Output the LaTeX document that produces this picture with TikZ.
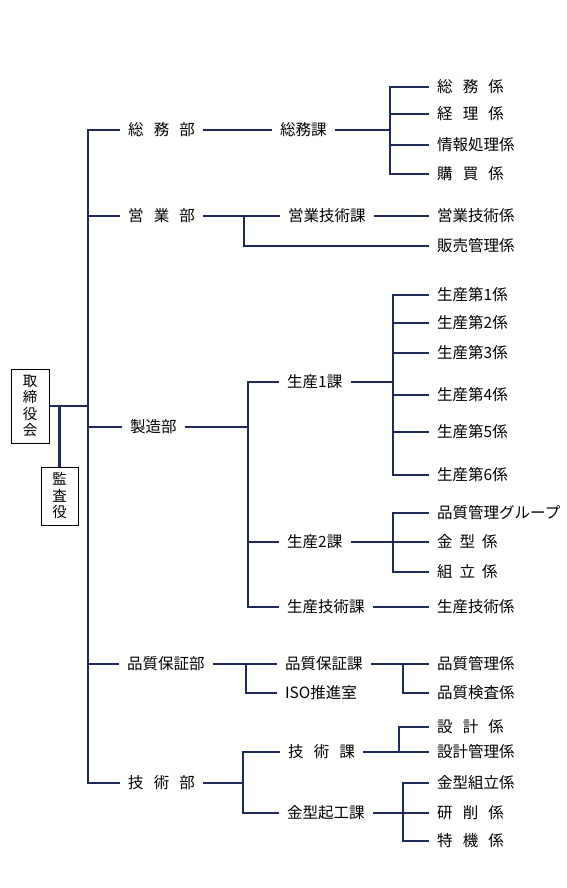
\documentclass[tikz,border=0pt]{standalone}
\usepackage{fontspec}
\setmainfont{Noto Sans CJK JP}
\definecolor{orgline}{RGB}{31,42,92}
\newcommand{\jgap}[1][0.65em]{\hspace{#1}}

\begin{document}
\begin{tikzpicture}[
    x=1pt, y=-1pt,
    lbl/.style={anchor=west, inner xsep=8pt, inner ysep=2pt, font=\fontsize{15.5}{18}\selectfont},
    vbox/.style={draw, line width=0.8pt, align=center, inner sep=0pt, font=\fontsize{14.5}{16.5}\selectfont},
    org/.style={draw=orgline, line width=2.2pt}
  ]
  \useasboundingbox (0,0) rectangle (567,888);

  % board and auditor
  \node[vbox, minimum width=38pt, minimum height=74pt] (board) at (30,406) {取\\締\\役\\会};
  \node[vbox, minimum width=37pt, minimum height=58pt] (audit) at (59.5,496) {監\\査\\役};

  % departments
  \node[lbl] (somu) at (120,130) {総\jgap 務\jgap 部};
  \node[lbl] (eigyo) at (120,216) {営\jgap 業\jgap 部};
  \node[lbl] (seizo) at (122,427) {製造部};
  \node[lbl] (hinsho) at (119,664) {品質保証部};
  \node[lbl] (gijutsu) at (120,783) {技\jgap 術\jgap 部};

  % sections
  \node[lbl] (somuka) at (272,130) {総務課};
  \node[lbl] (eigyoka) at (280,216) {営業技術課};
  \node[lbl] (sei1ka) at (279,382) {生産1課};
  \node[lbl] (sei2ka) at (279,542) {生産2課};
  \node[lbl] (seigika) at (279,607) {生産技術課};
  \node[lbl] (hinka) at (277,664) {品質保証課};
  \node[lbl] (iso) at (277,693) {ISO推進室};
  \node[lbl] (gika) at (280,752) {技\jgap 術\jgap 課};
  \node[lbl] (kanaka) at (279,813) {金型起工課};

  % groups
  \node[lbl] (so1) at (429,87) {総\jgap 務\jgap 係};
  \node[lbl] (so2) at (429,114) {経\jgap 理\jgap 係};
  \node[lbl] (so3) at (429,145) {情報処理係};
  \node[lbl] (so4) at (429,174) {購\jgap 買\jgap 係};
  \node[lbl] (ei1) at (429,216) {営業技術係};
  \node[lbl] (ei2) at (429,246) {販売管理係};
  \foreach \i/\y in {1/295,2/323,3/353,4/395,5/432,6/475}
    \node[lbl] (p\i) at (429,\y) {生産第\i 係};
  \node[lbl] (q1) at (429,513) {品質管理グループ};
  \node[lbl] (q2) at (429,542) {金\jgap[0.45em]型\jgap[0.45em]係};
  \node[lbl] (q3) at (429,572) {組\jgap[0.45em]立\jgap[0.45em]係};
  \node[lbl] (st1) at (429,607) {生産技術係};
  \node[lbl] (hk1) at (429,664) {品質管理係};
  \node[lbl] (hk2) at (429,693) {品質検査係};
  \node[lbl] (gk1) at (429,727) {設\jgap 計\jgap 係};
  \node[lbl] (gk2) at (429,752) {設計管理係};
  \node[lbl] (kk1) at (429,783) {金型組立係};
  \node[lbl] (kk2) at (429,813) {研\jgap 削\jgap 係};
  \node[lbl] (kk3) at (429,841) {特\jgap 機\jgap 係};

  % junction columns
  \coordinate (trunk) at (88,0);
  \coordinate (jeigyo) at (244,0);
  \coordinate (jseizo) at (248,0);
  \coordinate (jhinsho) at (246,0);
  \coordinate (jgiju) at (243,0);
  \coordinate (jsomu) at (390,0);
  \coordinate (jsei) at (393,0);
  \coordinate (jhinka) at (403,0);
  \coordinate (jgika) at (399,0);
  \coordinate (jkana) at (403,0);

  % board to departments
  \draw[org] (board.east) -- (board.east -| trunk);
  \draw[org] (audit.north |- board.east) -- (audit.north);
  \draw[org] (somu.west) -| (trunk |- gijutsu.west) -- (gijutsu.west);
  \draw[org] (eigyo.west -| trunk) -- (eigyo.west);
  \draw[org] (seizo.west -| trunk) -- (seizo.west);
  \draw[org] (hinsho.west -| trunk) -- (hinsho.west);

  % 総務部
  \draw[org] (somu.east) -- (somuka.west);
  \draw[org] (somuka.east) -- (somuka.east -| jsomu);
  \draw[org] (so1.west) -| (jsomu |- so4.west) -- (so4.west);
  \draw[org] (so2.west -| jsomu) -- (so2.west);
  \draw[org] (so3.west -| jsomu) -- (so3.west);

  % 営業部
  \draw[org] (eigyo.east) -- (eigyoka.west);
  \draw[org] (eigyo.east -| jeigyo) |- (ei2.west);
  \draw[org] (eigyoka.east) -- (ei1.west);

  % 製造部
  \draw[org] (seizo.east) -- (seizo.east -| jseizo);
  \draw[org] (sei1ka.west) -| (jseizo |- seigika.west) -- (seigika.west);
  \draw[org] (sei2ka.west -| jseizo) -- (sei2ka.west);
  \draw[org] (sei1ka.east) -- (sei1ka.east -| jsei);
  \draw[org] (p1.west) -| (jsei |- p6.west) -- (p6.west);
  \foreach \i in {2,...,5}
    \draw[org] (p\i.west -| jsei) -- (p\i.west);
  \draw[org] (sei2ka.east) -- (q2.west);
  \draw[org] (q1.west) -| (jsei |- q3.west) -- (q3.west);
  \draw[org] (seigika.east) -- (st1.west);

  % 品質保証部
  \draw[org] (hinsho.east) -- (hinka.west);
  \draw[org] (hinsho.east -| jhinsho) |- (iso.west);
  \draw[org] (hinka.east) -- (hk1.west);
  \draw[org] (hinka.east -| jhinka) |- (hk2.west);

  % 技術部
  \draw[org] (gijutsu.east) -- (gijutsu.east -| jgiju);
  \draw[org] (gika.west) -| (jgiju |- kanaka.west) -- (kanaka.west);
  \draw[org] (gika.east) -- (gk2.west);
  \draw[org] (gika.east -| jgika) |- (gk1.west);
  \draw[org] (kanaka.east) -- (kk2.west);
  \draw[org] (kk1.west) -| (jkana |- kk3.west) -- (kk3.west);
\end{tikzpicture}
\end{document}
